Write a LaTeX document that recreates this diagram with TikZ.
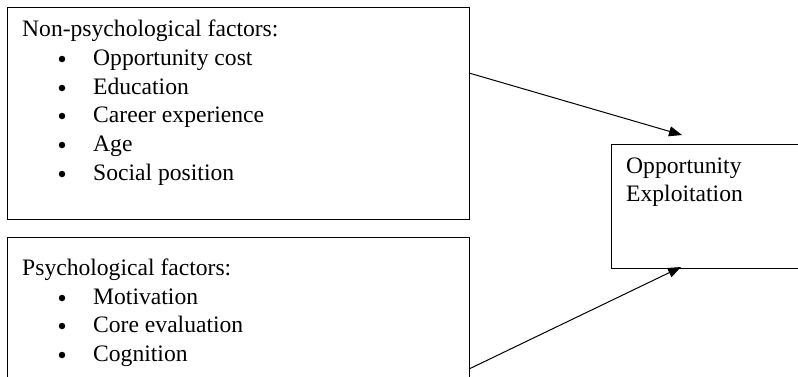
\documentclass[tikz,border=0pt]{standalone}
\usepackage{fontspec}
\setmainfont{Liberation Serif}
\usetikzlibrary{arrows.meta}

\tikzset{
  box/.style={draw, line width=1pt, anchor=north west, inner sep=0pt},
  txt/.style={anchor=base west, inner sep=0pt, font=\fontsize{23.6}{29}\selectfont},
  blt/.style={circle, fill, inner sep=0pt, minimum size=6.5pt, yshift=6pt},
  link/.style={line width=1pt, -{Triangle[length=13pt,width=10pt]}}
}

\begin{document}
\begin{tikzpicture}[x=1pt, y=-1pt]

    \useasboundingbox (0, 0) rectangle (798, 376);
    \clip (0, 0) rectangle (798, 376);

    % boxes
    \node[box, minimum width=462pt, minimum height=212pt] (np) at (7, 7) {};
    \node[box, minimum width=462pt, minimum height=170pt] (ps) at (7, 237) {};
    \node[box, minimum width=210pt, minimum height=124pt] (oe) at (611, 144) {};

    % non-psychological factors
    \node[txt] (np0) at (22, 36) {Non-psychological factors:};
    \node[blt] (npb1) at (62, 65) {};
    \node[txt] (np1) at (93, 65) {Opportunity cost};
    \node[blt] (npb2) at (62, 94) {};
    \node[txt] (np2) at (93, 94) {Education};
    \node[blt] (npb3) at (62, 122) {};
    \node[txt] (np3) at (93, 122) {Career experience};
    \node[blt] (npb4) at (62, 151) {};
    \node[txt] (np4) at (93, 151) {Age};
    \node[blt] (npb5) at (62, 180) {};
    \node[txt] (np5) at (93, 180) {Social position};

    % psychological factors
    \node[txt] (ps0) at (22, 275) {Psychological factors:};
    \node[blt] (psb1) at (62, 304) {};
    \node[txt] (ps1) at (93, 304) {Motivation};
    \node[blt] (psb2) at (62, 332) {};
    \node[txt] (ps2) at (93, 332) {Core evaluation};
    \node[blt] (psb3) at (62, 361) {};
    \node[txt] (ps3) at (93, 361) {Cognition};

    % outcome
    \node[txt] (oe1) at (626, 173) {Opportunity};
    \node[txt] (oe2) at (626, 201) {Exploitation};

    % arrows
    \coordinate (s1) at (469, 73);
    \coordinate (t1) at (682, 135);
    \coordinate (s2) at (469, 369);
    \coordinate (t2) at (681, 267);
    \draw[link] (s1) -- (t1);
    \draw[link] (s2) -- (t2);

\end{tikzpicture}
\end{document}
